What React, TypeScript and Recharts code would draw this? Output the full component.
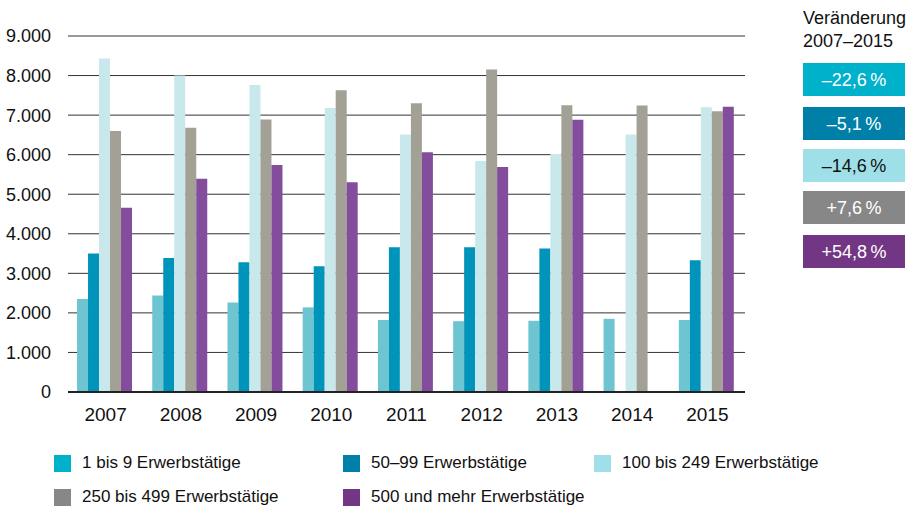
import { Bar, BarChart, CartesianGrid, XAxis, YAxis } from 'recharts'

const years = ['2007', '2008', '2009', '2010', '2011', '2012', '2013', '2014', '2015']
const size1to9 = [2350, 2440, 2260, 2140, 1820, 1790, 1800, 1850, 1820]
const size50to99 = [3500, 3390, 3280, 3180, 3660, 3660, 3630, null, 3330]
const size100to249 = [8430, 8000, 7760, 7180, 6510, 5840, 6020, 6510, 7200]
const size250to499 = [6600, 6680, 6890, 7630, 7300, 8150, 7250, 7240, 7100]
const size500plus = [4660, 5390, 5740, 5300, 6060, 5690, 6880, null, 7210]

const seriesNames = [
	'1 bis 9 Erwerbstätige',
	'50–99 Erwerbstätige',
	'100 bis 249 Erwerbstätige',
	'250 bis 499 Erwerbstätige',
	'500 und mehr Erwerbstätige',
]
const changeLabels = ['–22,6\u202f%', '–5,1\u202f%', '–14,6\u202f%', '+7,6\u202f%', '+54,8\u202f%']
const yTicks = [0, 1000, 2000, 3000, 4000, 5000, 6000, 7000, 8000, 9000]

const barColors = ['#6ec5d2', '#0094bb', '#c9e8ec', '#a3a096', '#844c9d']
const keyColors = ['#00b1cc', '#0080a8', '#9fe0e8', '#878787', '#733684']
const keyTextColors = ['#fff', '#fff', '#111', '#fff', '#fff']
const keys = ['s1', 's2', 's3', 's4', 's5']

const data = years.map((year, i) => ({
	year,
	s1: size1to9[i],
	s2: size50to99[i],
	s3: size100to249[i],
	s4: size250to499[i],
	s5: size500plus[i],
}))

const fmt = (v: number) => String(v).replace(/(\d)(?=(\d{3})+$)/g, '$1.')

const textFont = '"Liberation Sans", Arial, sans-serif'

// legend layout: [left, top] of each swatch
const legendPos = [
	[54, 453],
	[343, 453],
	[594, 453],
	[54, 487],
	[343, 487],
]

const App = () => {
	return (
		<div
			style={{
				position: 'absolute',
				left: 0,
				top: 0,
				width: 919,
				height: 508,
				background: '#fff',
				color: '#111',
			}}
		>
			<BarChart
				width={919}
				height={508}
				data={data}
				margin={{ top: 36, right: 174, bottom: 86, left: 0 }}
				barCategoryGap='12%'
				barGap={0}
			>
				<CartesianGrid vertical={false} stroke='#333' strokeWidth={1} />
				<XAxis
					dataKey='year'
					height={30}
					tickLine={false}
					tickSize={0}
					tickMargin={16}
					axisLine={{ stroke: '#222', strokeWidth: 2 }}
					tick={{ fill: '#111', fontSize: 19, fontFamily: textFont }}
				/>
				<YAxis
					width={68}
					domain={[0, 9000]}
					ticks={yTicks}
					interval={0}
					axisLine={false}
					tickLine={false}
					tickSize={0}
					tickMargin={17}
					tickFormatter={fmt}
					tick={{ fill: '#111', fontSize: 18, fontFamily: textFont }}
				/>
				{keys.map((k, i) => (
					<Bar
						key={k}
						dataKey={k}
						name={seriesNames[i]}
						fill={barColors[i]}
						isAnimationActive={false}
					/>
				))}
			</BarChart>

			<div
				style={{
					position: 'absolute',
					left: 803,
					top: 7,
					fontFamily: textFont,
					fontSize: 18,
					lineHeight: '23px',
				}}
			>
				Veränderung
				<br />
				2007–2015
			</div>
			{changeLabels.map((label, i) => (
				<div
					key={label}
					style={{
						position: 'absolute',
						left: 803,
						top: [63, 107, 149, 191, 235][i],
						width: 102,
						height: 33,
						lineHeight: '35px',
						background: keyColors[i],
						color: keyTextColors[i],
						textAlign: 'center',
						fontFamily: textFont,
						fontSize: 18,
					}}
				>
					{label}
				</div>
			))}

			{seriesNames.map((name, i) => (
				<div
					key={name}
					style={{
						position: 'absolute',
						left: legendPos[i][0],
						top: legendPos[i][1],
						display: 'flex',
						alignItems: 'center',
						fontFamily: textFont,
						fontSize: 17,
						whiteSpace: 'nowrap',
					}}
				>
					<span
						style={{
							display: 'inline-block',
							width: 17,
							height: 17,
							background: keyColors[i],
							marginRight: 11,
						}}
					/>
					<span>{name}</span>
				</div>
			))}
		</div>
	)
}

export default App
